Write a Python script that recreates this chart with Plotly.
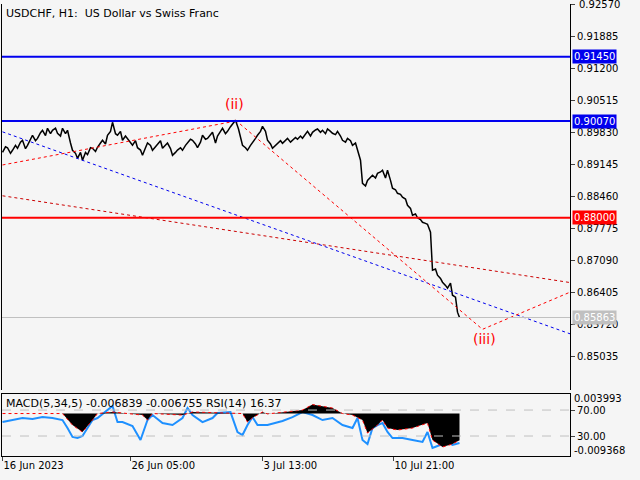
import plotly.graph_objects as go

price_x = [0,3,5,8,10,13,15,18,20,23,25,28,30,33,35,38,40,43,45,48,50,53,55,58,60,63,65,68,70,73,75,78,80,83,85,88,90,93,95,98,100,103,105,108,110,113,115,118,120,123,125,128,130,133,135,138,140,143,145,148,150,153,155,158,160,163,165,168,170,173,175,178,180,183,185,188,190,193,195,198,200,203,205,208,210,213,215,218,220,223,225,228,230,233,236,238,240,243,245,248,250,253,255,258,260,263,265,268,270,273,275,278,280,283,285,288,290,293,295,298,300,303,305,308,310,313,315,318,320,323,325,328,330,333,335,338,340,343,345,348,350,353,355,358,360,363,365,368,370,373,375,378,380,383,385,388,390,393,395,398,400,403,405,408,410,413,415,418,420,423,425,428,430,433,435,438,440,443,445,448,450,453,455,457]
price_y = [0.89402,0.8952,0.8950,0.8938,0.89445,0.8955,0.89487,0.8962,0.89659,0.8948,0.8955,0.8970,0.89766,0.8965,0.8970,0.8982,0.89873,0.8976,0.89916,0.8980,0.89873,0.8992,0.89809,0.8975,0.89916,0.8980,0.89873,0.8960,0.89445,0.8938,0.89273,0.8940,0.89231,0.8940,0.8935,0.8950,0.89487,0.8942,0.89509,0.8960,0.89659,0.8958,0.89766,0.8985,0.90044,0.8980,0.89766,0.8985,0.89659,0.8975,0.8970,0.8960,0.89552,0.8965,0.8950,0.8945,0.89338,0.8950,0.8960,0.8955,0.89445,0.8952,0.8958,0.8965,0.89487,0.8955,0.8960,0.8948,0.89338,0.8940,0.8945,0.8950,0.89445,0.8955,0.8960,0.8968,0.89659,0.8958,0.8950,0.8962,0.89766,0.8968,0.8970,0.8978,0.89830,0.8960,0.8975,0.8985,0.89916,0.8980,0.8985,0.8995,0.90001,0.90087,0.8990,0.8970,0.89552,0.8950,0.89445,0.8955,0.8960,0.8970,0.89766,0.8985,0.89958,0.8985,0.89659,0.8958,0.89487,0.8955,0.8960,0.8965,0.89595,0.8965,0.8970,0.8962,0.89659,0.8972,0.8968,0.8975,0.89702,0.8980,0.8985,0.8975,0.89830,0.8988,0.8990,0.8983,0.89873,0.8980,0.8990,0.8985,0.89809,0.8978,0.8985,0.8975,0.89659,0.8962,0.8970,0.8965,0.89552,0.8960,0.89445,0.89231,0.88738,0.8868,0.8880,0.8886,0.88910,0.8885,0.8895,0.8898,0.89017,0.8885,0.89017,0.8880,0.88631,0.8860,0.88524,0.8850,0.88439,0.8840,0.88267,0.8820,0.88053,0.8808,0.8800,0.8796,0.87903,0.8788,0.87861,0.87689,0.86876,0.8690,0.86769,0.8670,0.86619,0.8655,0.86491,0.8660,0.86341,0.8630,0.85977,0.85863]

macd_x = [0,60,70,80,90,95,110,140,145,150,180,190,240,245,250,260,265,300,310,330,340,350,360,365,375,380,385,395,410,420,425,430,440,450,457]
macd_y = [0,0,-0.00296,-0.00476,-0.00167,0,0.0004,-0.0004,-0.00167,0,-0.0004,0.0004,0,-0.00219,-0.0011,0.0004,-0.0001,0.0009,0.0023,0.0014,0,-0.0004,-0.00167,-0.00501,-0.00296,-0.00167,-0.00373,-0.00424,-0.00373,-0.00296,-0.00244,-0.00681,-0.00861,-0.00784,-0.00684]

rsi_x = [0,10,20,30,40,50,60,65,70,75,80,85,90,95,100,110,115,120,130,138,145,150,160,170,180,185,190,200,210,215,228,235,240,245,250,255,265,280,290,300,310,320,330,340,350,355,360,365,370,375,380,385,390,400,410,420,425,430,435,440,445,450,457]
rsi_y = [51.5,54.6,57.7,56.2,59.2,57.7,54.6,42.3,28.5,26.9,30,42.3,54.6,57.7,63.8,76.2,51.5,51.5,45.4,23.8,54.6,62.3,50,46.9,57.7,73.1,62.3,51.5,57.7,65.4,66.9,36.2,31.5,46.9,59.2,46.9,46.9,53.1,59.2,66.9,62.3,54.6,57.7,46.9,42.3,57.7,23.8,17.7,42.3,46.9,50,36.2,26.9,26.9,23.8,20.8,36.2,11.5,14.6,17.7,20.8,16.2,19.2]

level_lines = [0.91450, 0.90070, 0.88000]
level_colors = ["#0000ee", "#0000ee", "#ff0000"]
last_price = 0.85863
main_ticks = [0.92570,0.91885,0.91200,0.90515,0.89830,0.89145,0.88460,0.87775,0.87090,0.86405,0.85720,0.85035]
x_ticks = [0,128,260,391]
x_labels = ["16 Jun 2023","26 Jun 05:00","3 Jul 13:00","10 Jul 21:00"]
red_a = ([0, 233], [0.8913, 0.9007])
red_b = ([0, 568], [0.8847, 0.8661])
blue_a = ([0, 568], [0.8984, 0.8551])
red_c = ([233, 480, 568], [0.9009, 0.8561, 0.8641])

BG = "#f5f5f5"
fig = go.Figure()
fig.add_trace(go.Scatter(x=price_x, y=price_y, mode="lines", line=dict(color="black", width=1.5), xaxis="x", yaxis="y"))
for (xs, ys), c in [(red_a, "red"), (red_b, "#cc0000"), (blue_a, "#0000ee"), (red_c, "red")]:
    fig.add_trace(go.Scatter(x=xs, y=ys, mode="lines", line=dict(color=c, width=1, dash="dot"), xaxis="x", yaxis="y"))
fig.add_trace(go.Scatter(x=macd_x, y=macd_y, mode="lines", fill="tozeroy", fillcolor="black",
                         line=dict(color="red", width=1, dash="dot"), xaxis="x", yaxis="y3"))
fig.add_trace(go.Scatter(x=rsi_x, y=rsi_y, mode="lines", line=dict(color="#1e90ff", width=2), xaxis="x", yaxis="y2"))

shapes = []
for v, c in zip(level_lines, level_colors):
    shapes.append(dict(type="line", xref="paper", yref="y", x0=0, x1=1, y0=v, y1=v, line=dict(color=c, width=2)))
shapes.append(dict(type="line", xref="paper", yref="y", x0=0, x1=1, y0=last_price, y1=last_price, line=dict(color="#c0c0c0", width=1)))
for v in [70, 30]:
    shapes.append(dict(type="line", xref="paper", yref="y2", x0=0, x1=1, y0=v, y1=v, line=dict(color="#c0c0c0", width=1, dash="dash")))

ann = []
for v, c in zip(level_lines + [last_price], level_colors + ["#c0c0c0"]):
    ann.append(dict(x=1.003, xref="paper", y=v, yref="y", text=f"{v:.5f}", showarrow=False, xanchor="left",
                    bgcolor=c, font=dict(color="white", size=10), borderpad=1))
ann.append(dict(x=1.012, xref="paper", y=main_ticks[0], yref="y", text=f"{main_ticks[0]:.5f}", showarrow=False,
                xanchor="left", font=dict(size=10)))
ann.append(dict(x=232, y=0.9043, xref="x", yref="y", text="(ii)", showarrow=False, font=dict(color="red", size=14)))
ann.append(dict(x=482, y=0.8540, xref="x", yref="y", text="(iii)", showarrow=False, font=dict(color="red", size=14)))
ann.append(dict(x=0.004, y=0.998, xref="paper", yref="paper", text="USDCHF, H1:  US Dollar vs Swiss Franc",
                showarrow=False, xanchor="left", yanchor="top", font=dict(size=11)))
ann.append(dict(x=0.004, y=0.135, xref="paper", yref="paper", text="MACD(5,34,5) -0.006839 -0.006755 RSI(14) 16.37",
                showarrow=False, xanchor="left", yanchor="top", font=dict(size=11)))
ann.append(dict(x=1.003, y=0.110, xref="paper", yref="paper", text="0.003993", showarrow=False, xanchor="left", font=dict(size=10)))
ann.append(dict(x=1.003, y=-0.005, xref="paper", yref="paper", text="-0.009368", showarrow=False, xanchor="left", font=dict(size=10)))

ax = dict(showline=True, linecolor="black", mirror=True, showgrid=False, zeroline=False, automargin=False)
fig.update_layout(
    width=640, height=480, showlegend=False, paper_bgcolor=BG, plot_bgcolor=BG,
    margin=dict(l=2, r=70, t=4, b=24, autoexpand=False),
    font=dict(family="DejaVu Sans", size=10, color="black"),
    xaxis=dict(**ax, domain=[0, 1], range=[-0.5, 567.5], tickvals=x_ticks, ticktext=x_labels,
               ticks="outside", ticklen=4, anchor="y2", ticklabelposition="outside right"),
    yaxis=dict(**ax, domain=[0.146, 1], range=[0.8431, 0.92578], side="right", tickvals=main_ticks,
               tickformat=".5f", ticks="outside", ticklen=4),
    yaxis2=dict(**ax, domain=[0, 0.137], range=[-0.8, 94.6], side="right", tickvals=[70, 30],
                tickformat=".2f", ticks="outside", ticklen=4),
    yaxis3=dict(overlaying="y2", range=[-0.01091, 0.0050], showticklabels=False, showgrid=False, zeroline=False),
    shapes=shapes, annotations=ann,
)
fig.write_html("out.html", config={"displayModeBar": False},
               post_script="document.body.style.margin='0';document.body.style.background='#f5f5f5';")
